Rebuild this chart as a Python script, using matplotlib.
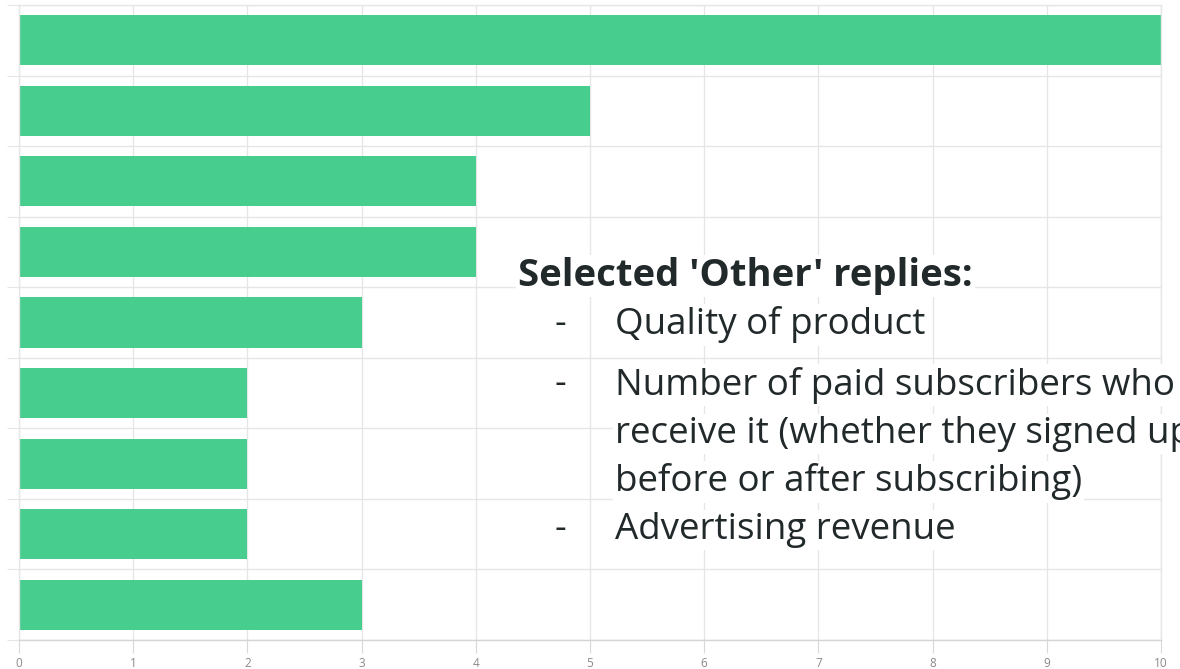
"""Horizontal bar chart with a side note of selected 'Other' replies."""

import matplotlib

matplotlib.use("Agg")
import matplotlib.pyplot as plt
import numpy as np

values = [10, 5, 4, 4, 3, 2, 2, 2, 3]
x_ticks = list(range(0, 11))
note_title = "Selected 'Other' replies:"
note_items = [
    "Quality of product",
    "Number of paid subscribers who\nreceive it (whether they signed up\nbefore or after subscribing)",
    "Advertising revenue",
]

BAR = "#47cd8e"
GRID = "#e6e6e6"
TEXT = "#22292b"

fig = plt.figure(figsize=(11.8, 6.69), dpi=100)
ax = fig.add_axes([19 / 1180, 1 - 640 / 669, (1161 - 19) / 1180, 635 / 669])

y = np.arange(len(values))
ax.barh(y, values, height=0.71, color=BAR, zorder=2)
ax.set_xlim(0, 10)
ax.set_ylim(len(values) - 0.5, -0.5)

ax.set_xticks(x_ticks)
ax.set_xticklabels([str(t) for t in x_ticks], fontsize=8.5, color="#8a8a8a", family="Open Sans")
ax.set_yticks(np.arange(-0.5, len(values), 1.0))
ax.set_yticklabels([])
ax.tick_params(axis="x", length=9, color="#d8d8d8", pad=3)
ax.tick_params(axis="y", length=9, color=GRID)
ax.grid(True, color=GRID, linewidth=1.0, zorder=0)
ax.set_axisbelow(True)
for side, spine in ax.spines.items():
    spine.set_color("#d5d5d5" if side == "bottom" else GRID)
    spine.set_linewidth(1.0)

box = dict(facecolor="white", edgecolor="none", pad=1.5)


def fx(px):
    return px / 1180


def fy(py):
    return 1 - py / 669


fig.text(fx(518), fy(276), note_title, fontsize=27.5, fontweight="bold", color=TEXT,
         family="Open Sans", va="center", ha="left", bbox=box)

# vertical centre (px) of each wrapped line, per item
line_rows = [[325], [385, 434, 482], [530]]
for item, rows in zip(note_items, line_rows):
    fig.text(fx(555), fy(rows[0]), "-", fontsize=26, color=TEXT, family="Open Sans",
             va="center", ha="left")
    for ln, row in zip(item.split("\n"), rows):
        fig.text(fx(615), fy(row), ln, fontsize=26.5, color=TEXT, family="Open Sans",
                 va="center", ha="left", bbox=box)

fig.savefig("out.png", dpi=100)
plt.close(fig)
